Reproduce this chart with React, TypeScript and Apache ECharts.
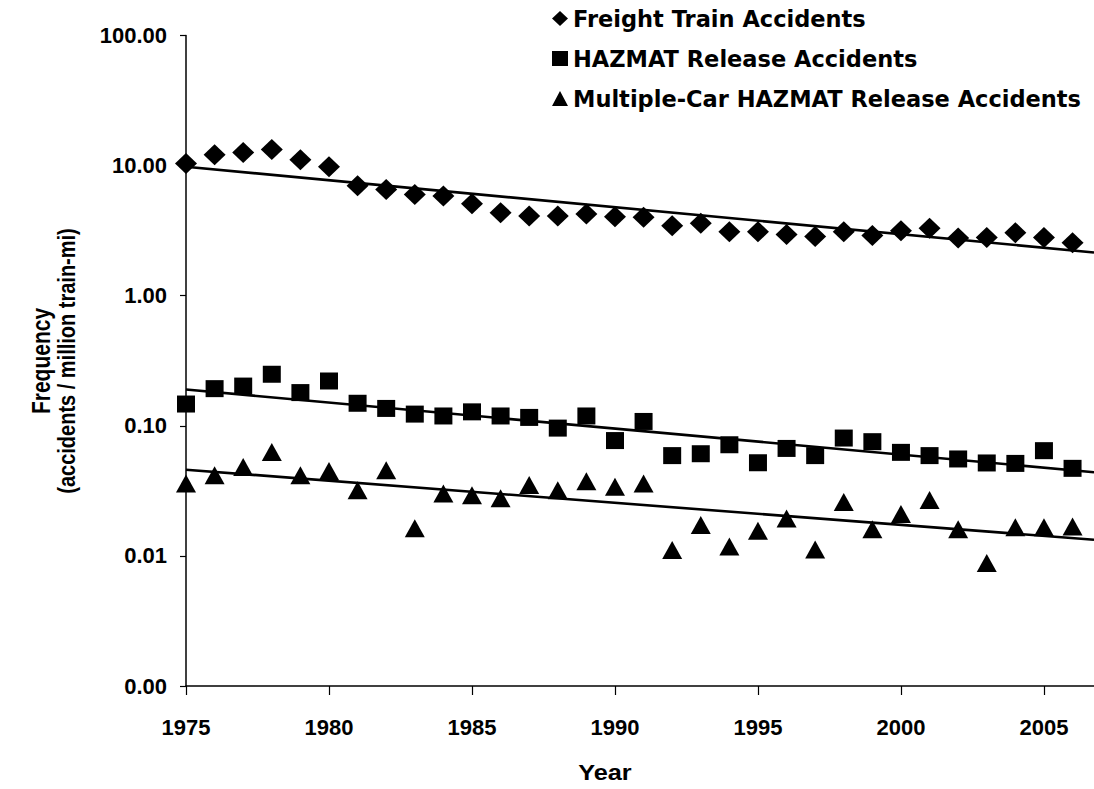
import React, { useEffect, useRef } from "react";
import * as echarts from "echarts";

const years = [1975, 1976, 1977, 1978, 1979, 1980, 1981, 1982, 1983, 1984, 1985, 1986, 1987, 1988, 1989, 1990, 1991, 1992, 1993, 1994, 1995, 1996, 1997, 1998, 1999, 2000, 2001, 2002, 2003, 2004, 2005, 2006];

const freight = [10.4, 12.1, 12.6, 13.3, 11.1, 9.8, 7.0, 6.55, 6.0, 5.85, 5.1, 4.35, 4.1, 4.1, 4.25, 4.05, 4.0, 3.45, 3.6, 3.1, 3.1, 2.95, 2.85, 3.1, 2.9, 3.15, 3.3, 2.78, 2.8, 3.05, 2.8, 2.55];

const hazmat = [0.147, 0.193, 0.202, 0.249, 0.18, 0.221, 0.149, 0.136, 0.123, 0.119, 0.128, 0.119, 0.116, 0.096, 0.119, 0.077, 0.108, 0.059, 0.061, 0.0715, 0.052, 0.067, 0.059, 0.0805, 0.0755, 0.0625, 0.059, 0.0556, 0.0518, 0.0514, 0.0644, 0.0471];

const multiCar = [0.036, 0.0417, 0.0483, 0.063, 0.0417, 0.045, 0.032, 0.0455, 0.0163, 0.0302, 0.0293, 0.0277, 0.035, 0.032, 0.0375, 0.034, 0.036, 0.0111, 0.0173, 0.0118, 0.0156, 0.0194, 0.0112, 0.026, 0.016, 0.021, 0.0269, 0.016, 0.0088, 0.0166, 0.0166, 0.0168];

const trendYears = [1975, 2006.75];
const freightTrend = [9.8, 2.15];
const hazmatTrend = [0.19, 0.044];
const multiCarTrend = [0.046, 0.0133];

const seriesNames = [
  "Freight Train Accidents",
  "HAZMAT Release Accidents",
  "Multiple-Car HAZMAT Release Accidents",
];

const yTitle1 = "Frequency";
const yTitle2 = "(accidents / million train-mi)";
const xTitle = "Year";

const TICK_FONT = "Liberation Sans";
const LEGEND_FONT = "DejaVu Sans";

export default function App() {
  const ref = useRef<HTMLDivElement>(null);

  useEffect(() => {
    if (!ref.current) return;
    const chart = echarts.init(ref.current, undefined, { renderer: "svg" });
    const pts = (vals: number[]) => years.map((y, i) => [y, vals[i]]);
    const trend = (vals: number[]) => trendYears.map((y, i) => [y, vals[i]]);
    const lineSeries = (vals: number[]) => ({
      type: "line",
      data: trend(vals),
      showSymbol: false,
      symbol: "none",
      lineStyle: { color: "#000", width: 2.6 },
      z: 1,
      silent: true,
    });
    const scatter = (name: string, vals: number[], symbol: string, size: number[]) => ({
      name,
      type: "scatter",
      data: pts(vals),
      symbol,
      symbolSize: size,
      itemStyle: { color: "#000", opacity: 1 },
      emphasis: { disabled: true },
      z: 3,
    });
    chart.setOption({
      animation: false,
      backgroundColor: "#fff",
      grid: { left: 186, top: 35.5, right: 0, bottom: 103, containLabel: false },
      legend: {
        orient: "vertical",
        left: 552,
        top: 7,
        padding: 0,
        itemGap: 17,
        itemWidth: 16,
        itemHeight: 15,
        selectedMode: false,
        textStyle: { fontFamily: LEGEND_FONT, fontWeight: "bold", fontSize: 22.5, color: "#000" },
        data: [
          { name: seriesNames[0], icon: "diamond" },
          { name: seriesNames[1], icon: "rect" },
          { name: seriesNames[2], icon: "triangle" },
        ],
      },
      xAxis: {
        type: "value",
        min: 1975,
        max: 2006.75,
        interval: 5,
        axisLine: { show: true, lineStyle: { color: "#000", width: 1.5 } },
        axisTick: { show: true, inside: false, length: 9, lineStyle: { color: "#000", width: 1.2 } },
        axisLabel: {
          margin: 30,
          showMaxLabel: false,
          fontFamily: TICK_FONT,
          fontWeight: "bold",
          fontSize: 22,
          color: "#000",
          formatter: (v: number) => (v % 5 === 0 ? String(v) : ""),
        },
        splitLine: { show: false },
      },
      yAxis: {
        type: "log",
        logBase: 10,
        min: 0.001,
        max: 100,
        splitNumber: 5,
        axisLine: { show: true, lineStyle: { color: "#000", width: 1.5 } },
        axisTick: { show: true, inside: false, length: 6, lineStyle: { color: "#000", width: 1.2 } },
        minorTick: { show: false },
        axisLabel: {
          margin: 19,
          fontFamily: TICK_FONT,
          fontWeight: "bold",
          fontSize: 22,
          color: "#000",
          formatter: (v: number) => Number(v).toFixed(2),
        },
        splitLine: { show: false },
      },
      graphic: [
        {
          type: "text",
          x: 41,
          y: 361,
          rotation: Math.PI / 2,
          scaleY: 1.2,
          style: {
            text: yTitle1,
            fill: "#000",
            font: "bold 21px 'Liberation Sans', Arial, sans-serif",
            textAlign: "center",
            textVerticalAlign: "middle",
          },
        },
        {
          type: "text",
          x: 67,
          y: 361,
          rotation: Math.PI / 2,
          scaleY: 1.2,
          style: {
            text: yTitle2,
            fill: "#000",
            font: "bold 20px 'Liberation Sans', Arial, sans-serif",
            textAlign: "center",
            textVerticalAlign: "middle",
          },
        },
        {
          type: "text",
          x: 605,
          y: 773,
          scaleX: 1.15,
          style: {
            text: xTitle,
            fill: "#000",
            font: "bold 22px 'Liberation Sans', Arial, sans-serif",
            textAlign: "center",
            textVerticalAlign: "middle",
          },
        },
      ],
      series: [
        scatter(seriesNames[0], freight, "diamond", [22, 21]),
        scatter(seriesNames[1], hazmat, "rect", [18, 17]),
        scatter(seriesNames[2], multiCar, "triangle", [20, 18]),
        lineSeries(freightTrend),
        lineSeries(hazmatTrend),
        lineSeries(multiCarTrend),
      ],
    });
    return () => chart.dispose();
  }, []);

  return (
    <div
      ref={ref}
      style={{ position: "fixed", left: 0, top: 0, width: 1094, height: 789, background: "#fff" }}
    />
  );
}
